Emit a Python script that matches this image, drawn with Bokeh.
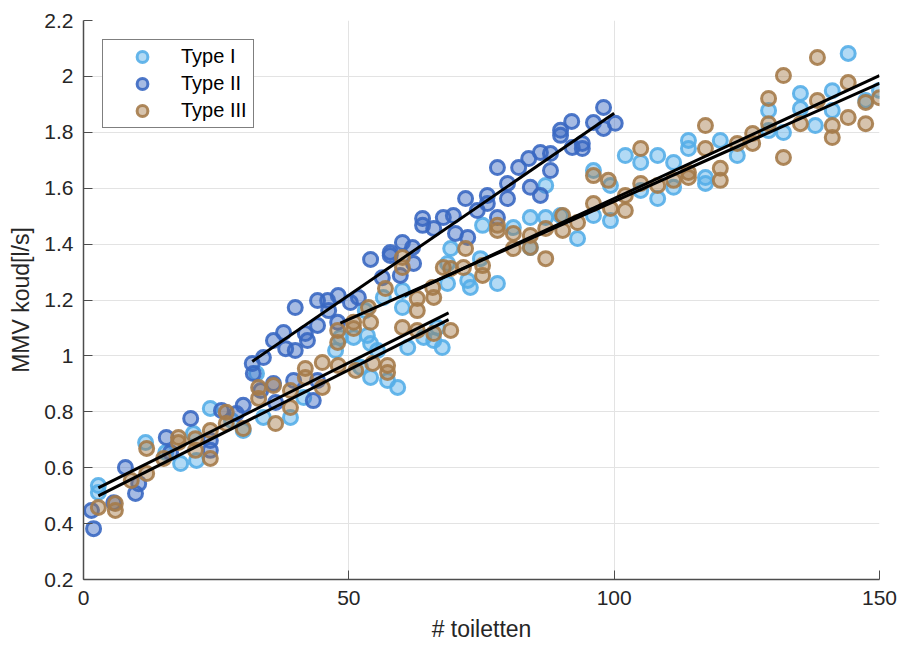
from bokeh.plotting import figure
from bokeh.models import ColumnDataSource, FixedTicker, CustomJSTickFormatter, Range1d
from bokeh.embed import file_html
from bokeh.resources import INLINE

# ---------------- data ----------------
type1_x = [2.8, 2.8, 11.7, 15.5, 18.3, 21.3, 20.7, 23.9, 27.9, 30.1, 33.9, 32.6, 39.0, 41.5,
           47.5, 48.4, 50.9, 53.5, 54.1, 55.4, 57.3, 54.1, 52.2, 53.1, 56.5, 60.1, 60.1, 61.1,
           64.1, 66.0, 66.7, 67.6, 68.6, 68.6, 59.2, 72.9, 69.2, 75.2, 74.8, 72.4, 78.0, 81.0,
           84.2, 84.2, 87.1, 87.1, 89.9, 93.1, 96.1, 96.1, 99.3, 99.3, 102.1, 105.0, 105.0,
           108.2, 108.2, 111.2, 111.2, 114.0, 114.0, 117.2, 117.2, 120.0, 123.2, 129.1, 131.9,
           129.1, 135.1, 135.1, 137.9, 141.1, 141.1, 144.1, 147.4, 150.0]
type1_y = [0.536, 0.511, 0.690, 0.654, 0.615, 0.626, 0.722, 0.812, 0.769, 0.733, 0.780, 0.937,
           0.780, 0.851, 1.019, 1.066, 1.066, 1.073, 1.044, 1.019, 0.912, 0.923, 0.959, 1.162,
           1.209, 1.234, 1.173, 1.030, 1.066, 1.055, 1.102, 1.030, 1.259, 1.331, 0.887, 1.245,
           1.384, 1.467, 1.348, 1.270, 1.259, 1.459, 1.495, 1.388, 1.610, 1.495, 1.502, 1.420,
           1.663, 1.502, 1.484, 1.610, 1.717, 1.692, 1.592, 1.717, 1.563, 1.692, 1.603, 1.771,
           1.742, 1.638, 1.617, 1.771, 1.717, 1.806, 1.799, 1.878, 1.939, 1.885, 1.824, 1.949,
           1.878, 2.082, 1.914, 1.950]

type2_x = [1.9, 1.5, 5.7, 7.9, 9.8, 10.4, 15.6, 20.2, 16.4, 23.9, 23.9, 26.0, 30.1, 28.8,
           32.0, 31.8, 33.9, 35.8, 36.2, 33.4, 35.8, 37.7, 38.1, 39.9, 41.8, 42.2, 39.6, 44.1,
           43.3, 39.9, 44.1, 44.1, 46.0, 47.9, 46.2, 48.0, 50.3, 51.8, 54.1, 57.8, 56.3, 59.7,
           62.2, 57.8, 60.1, 62.0, 63.9, 63.9, 66.0, 67.8, 69.7, 70.1, 72.4, 72.0, 74.2, 76.1,
           76.1, 78.0, 78.0, 79.9, 79.9, 82.0, 83.9, 84.2, 86.1, 86.1, 88.0, 88.0, 89.9, 89.9,
           92.0, 92.1, 94.0, 94.0, 96.1, 98.0, 98.0, 100.2]
type2_y = [0.382, 0.447, 0.475, 0.601, 0.508, 0.543, 0.708, 0.776, 0.654, 0.662, 0.697, 0.805,
           0.823, 0.794, 0.937, 0.973, 0.994, 0.901, 0.833, 0.876, 1.055, 1.084, 1.026, 1.019,
           1.080, 1.055, 0.912, 0.912, 0.840, 1.173, 1.109, 1.198, 1.198, 1.120, 1.162, 1.216,
           1.191, 1.209, 1.345, 1.359, 1.280, 1.288, 1.331, 1.370, 1.406, 1.388, 1.492, 1.467,
           1.456, 1.495, 1.502, 1.438, 1.424, 1.563, 1.520, 1.574, 1.545, 1.495, 1.674, 1.617,
           1.563, 1.674, 1.706, 1.603, 1.728, 1.574, 1.724, 1.663, 1.807, 1.789, 1.839, 1.746,
           1.760, 1.742, 1.835, 1.889, 1.814, 1.832]

type3_x = [2.8, 6.0, 6.0, 9.0, 11.9, 11.9, 15.1, 17.9, 17.9, 21.1, 21.1, 23.9, 23.9, 26.9,
           26.9, 30.1, 33.0, 33.0, 35.8, 36.2, 39.0, 39.0, 41.8, 41.8, 45.0, 45.0, 48.0, 51.3,
           54.5, 57.3, 57.3, 47.9, 47.9, 50.9, 50.9, 53.7, 54.1, 56.9, 60.1, 60.1, 62.9, 62.9,
           60.1, 62.9, 65.8, 66.0, 66.0, 67.8, 69.2, 69.2, 71.6, 72.0, 75.2, 75.2, 78.0, 78.0,
           81.0, 81.0, 84.2, 84.2, 87.1, 87.1, 90.3, 90.3, 93.1, 96.1, 96.1, 98.9, 99.3, 102.1,
           102.1, 105.0, 105.0, 108.2, 111.2, 114.0, 114.0, 117.2, 117.2, 120.0, 120.0, 123.2,
           126.1, 126.1, 129.1, 129.1, 131.9, 131.9, 135.1, 138.3, 138.3, 141.1, 141.1, 144.1,
           144.1, 147.4, 147.4, 150.0]
type3_y = [0.458, 0.472, 0.447, 0.554, 0.579, 0.669, 0.633, 0.708, 0.690, 0.704, 0.662, 0.733,
           0.633, 0.798, 0.758, 0.740, 0.887, 0.848, 0.894, 0.758, 0.876, 0.815, 0.955, 0.923,
           0.976, 0.887, 0.966, 0.948, 0.973, 0.966, 0.941, 1.091, 1.048, 1.120, 1.098, 1.173,
           1.120, 1.241, 1.352, 1.316, 1.205, 1.162, 1.102, 1.091, 1.245, 1.209, 1.080, 1.316,
           1.091, 1.313, 1.316, 1.384, 1.323, 1.288, 1.467, 1.449, 1.438, 1.384, 1.431, 1.388,
           1.456, 1.348, 1.502, 1.449, 1.477, 1.645, 1.545, 1.628, 1.527, 1.574, 1.520, 1.742,
           1.617, 1.610, 1.628, 1.656, 1.638, 1.824, 1.742, 1.671, 1.628, 1.760, 1.796, 1.760,
           1.921, 1.831, 2.003, 1.710, 1.831, 2.068, 1.914, 1.824, 1.781, 1.978, 1.853, 1.907,
           1.831, 1.924]

# fitted trend segments (start/end)
fit_x0 = [2.8, 2.8, 31.8, 48.4, 60.5]
fit_x1 = [68.8, 68.8, 100.0, 150.0, 150.0]
fit_y0 = [0.528, 0.499, 0.980, 1.117, 1.216]
fit_y1 = [1.154, 1.130, 1.868, 1.975, 2.003]

series_names = ["Type I", "Type II", "Type III"]
y_ticks = [0.2, 0.4, 0.6, 0.8, 1.0, 1.2, 1.4, 1.6, 1.8, 2.0, 2.2]
x_ticks = [0, 50, 100, 150]

# ---------------- styling ----------------
edge_colors = ["#55AEE8", "#3A68C2", "#A57B4A"]
font = "Liberation Sans"
text_col = "#262626"

p = figure(width=901, height=646, output_backend="svg", toolbar_location=None,
           x_range=Range1d(0, 150), y_range=Range1d(0.2, 2.2),
           min_border_left=83, min_border_right=22, min_border_top=20, min_border_bottom=67)
p.background_fill_color = "white"
p.border_fill_color = "white"
p.outline_line_color = None

for xs, ys, name, col in zip([type1_x, type2_x, type3_x], [type1_y, type2_y, type3_y],
                             series_names, edge_colors):
    p.scatter(xs, ys, marker="circle", size=14, line_width=3, line_color=col, line_alpha=0.9,
              fill_color=col, fill_alpha=0.45, legend_label=name)

seg = ColumnDataSource(dict(x0=fit_x0, x1=fit_x1, y0=fit_y0, y1=fit_y1))
p.segment(x0="x0", y0="y0", x1="x1", y1="y1", source=seg, line_color="black", line_width=3)

# axes
p.xaxis.ticker = FixedTicker(ticks=x_ticks)
p.yaxis.ticker = FixedTicker(ticks=y_ticks)
p.yaxis.formatter = CustomJSTickFormatter(code="return String(Math.round(tick*10)/10);")
p.xaxis.axis_label = "# toiletten"
p.yaxis.axis_label = "MMV koud[l/s]"
for ax in (p.xaxis, p.yaxis):
    ax.axis_line_color = "#4d4d4d"
    ax.axis_line_width = 1.5
    ax.major_tick_line_color = "#4d4d4d"
    ax.major_tick_in = 9
    ax.major_tick_out = 0
    ax.minor_tick_line_color = None
    ax.major_label_text_font = font
    ax.major_label_text_font_size = "21px"
    ax.major_label_text_color = text_col
    ax.axis_label_text_font = font
    ax.axis_label_text_font_size = "23px"
    ax.axis_label_text_font_style = "normal"
    ax.axis_label_text_color = text_col
p.xaxis.major_label_standoff = 11
p.xaxis.axis_label_standoff = 8
p.yaxis.major_label_standoff = 10
p.yaxis.axis_label_standoff = 7

p.xgrid.ticker = FixedTicker(ticks=x_ticks)
p.ygrid.ticker = FixedTicker(ticks=y_ticks)
p.grid.grid_line_color = "#e3e3e3"
p.grid.grid_line_width = 1

# legend
lg = p.legend[0]
lg.location = "top_left"
lg.margin = 19
lg.padding = 3
lg.spacing = 0
lg.glyph_height = 27
lg.label_height = 27
lg.glyph_width = 72
lg.label_standoff = 3
lg.label_width = 69
lg.label_text_font = font
lg.label_text_font_size = "20px"
lg.label_text_color = "black"
lg.border_line_color = "black"
lg.border_line_width = 1
lg.background_fill_color = "white"
lg.background_fill_alpha = 1.0

open("out.html", "w").write(file_html(p, INLINE))
